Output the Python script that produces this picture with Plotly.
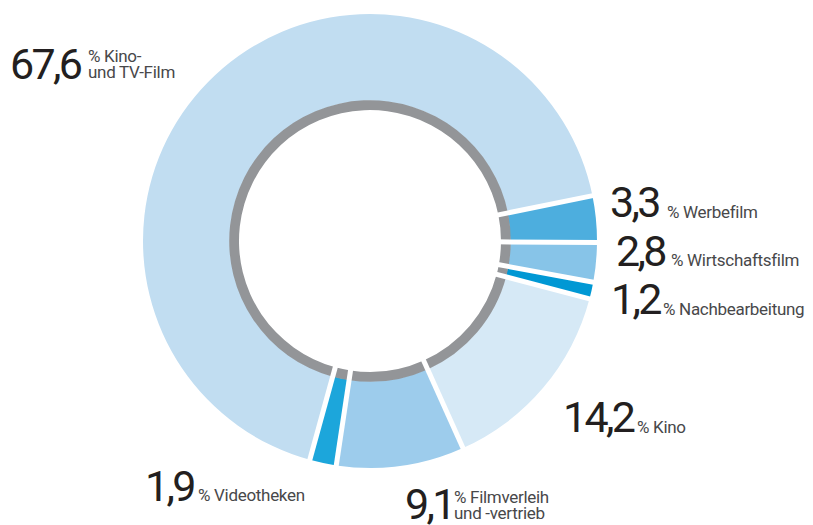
import plotly.graph_objects as go

# ---- data ----
categories = ["Werbefilm", "Wirtschaftsfilm", "Nachbearbeitung", "Kino",
              "Filmverleih und -vertrieb", "Videotheken", "Kino- und TV-Film"]
values = [3.3, 2.8, 1.2, 14.2, 9.1, 1.9, 67.6]
value_labels = ["3,3", "2,8", "1,2", "14,2", "9,1", "1,9", "67,6"]
label_lines = [["% Werbefilm"], ["% Wirtschaftsfilm"], ["% Nachbearbeitung"], ["% Kino"],
               ["% Filmverleih", "und -vertrieb"], ["% Videotheken"], ["% Kino-", "und TV-Film"]]
colors = ["#4daede", "#87c4e8", "#0098d4", "#d6e9f6", "#9dccec", "#1ca6db", "#c1ddf1"]

OFF = 8                            # page body margin of the browser
W, H = 813 - OFF, 525 - OFF        # figure size so that it fills the window
CX, CY, R = 370 - OFF, 241 - OFF, 227   # donut centre / outer radius (px, in figure)
R_IN, G_IN = 140.3, 131.0          # colored inner radius, gray inner radius
START = 11.5                       # degrees above east where first slice starts

total = sum(values)
widths = [v / total * 360 for v in values]
centers, bounds, acc = [], [], 0.0
for w in widths:
    centers.append(acc + w / 2)
    bounds.append(acc)
    acc += w

fig = go.Figure()
fig.add_trace(go.Barpolar(theta=centers, width=widths, base=[R_IN] * 7, r=[R - R_IN] * 7,
                          marker=dict(color=colors, line=dict(width=0)), hoverinfo="skip"))
fig.add_trace(go.Barpolar(theta=centers, width=widths, base=[G_IN] * 7, r=[R_IN - G_IN + 0.5] * 7,
                          marker=dict(color="#939598", line=dict(width=0)), hoverinfo="skip"))
gr, gt = [], []
for b in bounds:
    gr += [G_IN - 5, R + 3, None]
    gt += [b, b, None]
fig.add_trace(go.Scatterpolar(r=gr, theta=gt, mode="lines", line=dict(color="white", width=5),
                              hoverinfo="skip", connectgaps=False))

FONT = "Roboto, Liberation Sans, sans-serif"
NUM_SIZE, LAB_SIZE = 43, 17

def add_text(txt, x_left, baseline, size, color, spacing=0.0):
    # x_left / baseline are given in reference-window pixels
    if spacing:
        txt = f"<span style='letter-spacing:{spacing}px'>{txt}</span>"
    fig.add_annotation(text=txt, xref="paper", yref="paper", x=(x_left - OFF - 1.5) / W,
                       y=1 - (baseline - OFF + 0.212 * size + 1) / H, xanchor="left", yanchor="bottom",
                       showarrow=False, font=dict(family=FONT, size=size, color=color),
                       borderpad=0)

# label layout (left x of number, number baseline, left x of label, label first baseline)
layout_pos = [
    (610, 218, 667, 218),
    (616, 266.7, 671, 266.7),
    (611, 315, 663, 315),
    (563, 433.3, 637, 433.3),
    (405, 520, 455, 503),
    (145, 501.7, 198, 501.7),
    (10, 80, 88, 62),
]
for i, (nx, nb, lx, lb) in enumerate(layout_pos):
    add_text(value_labels[i], nx, nb, NUM_SIZE, "#231f20", spacing=-2.7)
    for j, line in enumerate(label_lines[i]):
        add_text(line, lx, lb + j * 16, LAB_SIZE, "#48484a", spacing=-0.3)

fig.update_layout(
    width=W, height=H, margin=dict(l=0, r=0, t=0, b=0),
    paper_bgcolor="white", plot_bgcolor="white", showlegend=False,
    polar=dict(
        domain=dict(x=[(CX - R - 3) / W, (CX + R + 3) / W], y=[(H - CY - R - 3) / H, (H - CY + R + 3) / H]),
        bgcolor="rgba(0,0,0,0)", hole=0, bargap=0,
        radialaxis=dict(visible=False, range=[0, R + 3]),
        angularaxis=dict(visible=False, rotation=START, direction="clockwise",
                         showgrid=False, showline=False, showticklabels=False, ticks=""),
    ),
)
fig.write_html("out.html")
